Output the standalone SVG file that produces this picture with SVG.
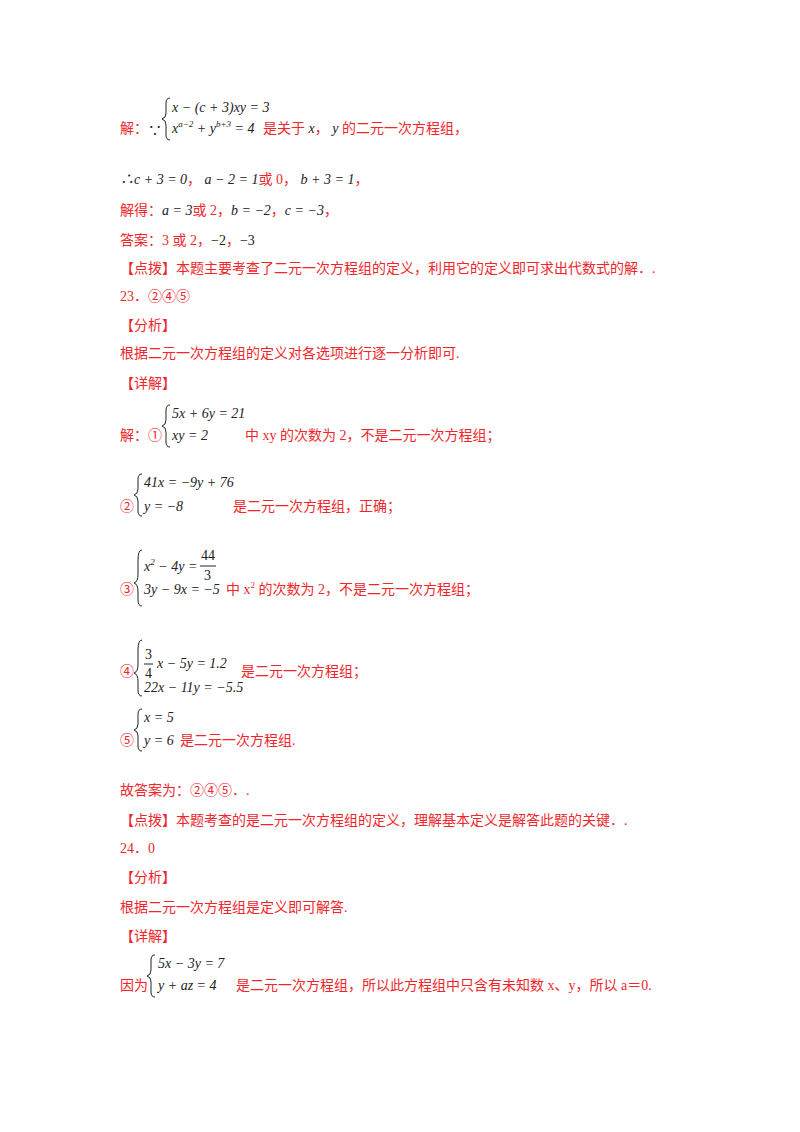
<svg xmlns="http://www.w3.org/2000/svg" width="800" height="1132" viewBox="0 0 800 1132">
<style>
text{font-family:"Liberation Serif","Noto Sans CJK SC",serif;font-size:14px}
.r{fill:#f0262c}
.k{fill:#222}
.m{font-style:italic;fill:#222}
.s{font-size:9px}
.b{fill:none;stroke:#222;stroke-width:1}
</style>
<rect width="800" height="1132" fill="#fff"/>
<g id="p1">
<path class="b" d="M170 98 q-4 0 -4 5 v10 q0 5 -4 6 q4 1 4 6 v10 q0 5 4 5"/>
<text x="172" y="112" class="m">x − (c + 3)xy = 3</text>
<text x="120" y="133" class="r">解：</text><text x="148" y="135" class="k">∵</text>
<text x="172" y="133" class="m">x<tspan class="s" dy="-6">a−2</tspan><tspan dy="6"> + y</tspan><tspan class="s" dy="-6">b+3</tspan><tspan dy="6"> = 4</tspan></text>
<text x="263" y="133" class="r">是关于 <tspan class="m">x</tspan>， <tspan class="m">y</tspan> 的二元一次方程组，</text>
<text x="120" y="184" class="m">∴c + 3 = 0<tspan class="r" font-style="normal">，</tspan> a − 2 = 1<tspan class="r" font-style="normal">或 0，</tspan> b + 3 = 1<tspan class="r" font-style="normal">，</tspan></text>
<text x="120" y="215" class="r">解得：<tspan class="m">a = 3</tspan>或 2，<tspan class="m">b = −2</tspan>，<tspan class="m">c = −3</tspan>，</text>
<text x="120" y="245" class="r">答案：3 或 2，<tspan class="k">−2</tspan>，<tspan class="k">−3</tspan></text>
<text x="120" y="273" class="r">【点拨】本题主要考查了二元一次方程组的定义，利用它的定义即可求出代数式的解．.</text>
</g>
<g id="p23">
<text x="120" y="301" class="r">23．②④⑤</text>
<text x="120" y="330" class="r">【分析】</text>
<text x="120" y="358" class="r">根据二元一次方程组的定义对各选项进行逐一分析即可.</text>
<text x="120" y="388" class="r">【详解】</text>
<path class="b" d="M170 405 q-4 0 -4 5 v10 q0 5 -4 6 q4 1 4 6 v10 q0 5 4 5"/>
<text x="172" y="418" class="m">5x + 6y = 21</text>
<text x="120" y="440" class="r">解：①</text><text x="172" y="440" class="m">xy = 2</text>
<text x="245" y="440" class="r">中 xy 的次数为 2，不是二元一次方程组；</text>
<path class="b" d="M142 474 q-4 0 -4 5 v10 q0 5 -4 6 q4 1 4 6 v10 q0 5 4 5"/>
<text x="144" y="487" class="m">41x = −9y + 76</text>
<text x="120" y="511" class="r">②</text><text x="144" y="511" class="m">y = −8</text>
<text x="233" y="511" class="r">是二元一次方程组，正确；</text>
<path class="b" d="M142 550 q-4 0 -4 10 v14 q0 8 -4 9 q4 1 4 9 v8 q0 6 4 6"/>
<text x="144" y="571" class="m">x<tspan class="s" dy="-6">2</tspan><tspan dy="6"> − 4y =</tspan></text>
<text x="201" y="560" class="k">44</text><line x1="200" y1="566" x2="216" y2="566" stroke="#222"/><text x="204" y="580" class="k">3</text>
<text x="120" y="594" class="r">③</text><text x="144" y="594" class="m">3y − 9x = −5</text>
<text x="226" y="594" class="r">中 x<tspan class="s" dy="-6">2</tspan><tspan dy="6"> 的次数为 2，不是二元一次方程组；</tspan></text>
<path class="b" d="M142 640 q-4 0 -4 10 v14 q0 8 -4 9 q4 1 4 9 v8 q0 6 4 6"/>
<text x="145" y="659" class="k">3</text><line x1="144" y1="664" x2="153" y2="664" stroke="#222"/><text x="145" y="678" class="k">4</text>
<text x="157" y="668" class="m">x − 5y = 1.2</text>
<text x="120" y="676" class="r">④</text>
<text x="241" y="676" class="r">是二元一次方程组；</text>
<text x="144" y="692" class="m">22x − 11y = −5.5</text>
<path class="b" d="M142 709 q-4 0 -4 5 v10 q0 5 -4 6 q4 1 4 6 v10 q0 5 4 5"/>
<text x="144" y="722" class="m">x = 5</text>
<text x="120" y="745" class="r">⑤</text><text x="144" y="745" class="m">y = 6</text>
<text x="180" y="745" class="r">是二元一次方程组.</text>
<text x="120" y="795" class="r">故答案为：②④⑤．.</text>
<text x="120" y="825" class="r">【点拨】本题考查的是二元一次方程组的定义，理解基本定义是解答此题的关键．.</text>
</g>
<g id="p24">
<text x="120" y="853" class="r">24．0</text>
<text x="120" y="882" class="r">【分析】</text>
<text x="120" y="912" class="r">根据二元一次方程组是定义即可解答.</text>
<text x="120" y="941" class="r">【详解】</text>
<path class="b" d="M155 955 q-4 0 -4 5 v10 q0 5 -4 6 q4 1 4 6 v10 q0 5 4 5"/>
<text x="158" y="968" class="m">5x − 3y = 7</text>
<text x="120" y="990" class="r">因为</text><text x="158" y="990" class="m">y + az = 4</text>
<text x="236" y="990" class="r">是二元一次方程组，所以此方程组中只含有未知数 x、y，所以 a＝0.</text>
</g>
</svg>
